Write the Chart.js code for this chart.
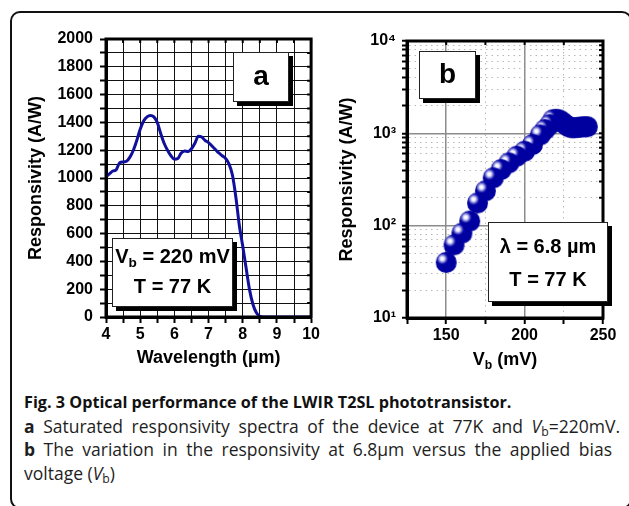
<!DOCTYPE html>
<html>
<head>
<meta charset="utf-8">
<script src="https://cdn.jsdelivr.net/npm/chart.js@4"></script>
<style>
  body { margin: 0; width: 629px; height: 506px; position: relative; overflow: hidden; background: #fff; font-family: "Liberation Sans", Arial, sans-serif; }
  .frame { position: absolute; left: 10px; top: 11px; width: 618px; height: 494px; border: 2px solid #111; border-radius: 10px; }
  canvas { position: absolute; top: 0; }
  #chartA { left: 0; }
  #chartB { left: 322px; }
  .box { position: absolute; background: #fff; border: 1px solid #222; box-shadow: 4px 4px 0 #000; font-weight: bold; color: #000; text-align: center; }
  .box .big { font-size: 28px; }
  .box .ln { font-size: 20px; position: absolute; left: 0; right: 0; white-space: nowrap; }
  .box sub, .vbtitle sub { font-size: 68%; vertical-align: -0.3em; line-height: 0; }
  .vbtitle { position: absolute; left: 407px; width: 196px; top: 349px; text-align: center; font-weight: bold; font-size: 18px; }
  .caption { position: absolute; left: 24px; top: 391px; font-family: "Open Sans", sans-serif; color: #1e1e1e; }
  .caption div { height: 23.5px; line-height: 23.5px; font-size: 17.5px; }
  .caption .head { font-weight: bold; font-size: 16.2px; color: #111; white-space: nowrap; }
  .caption .just { text-align: justify; text-align-last: justify; }
  .caption sub { font-size: 70%; vertical-align: -0.25em; line-height: 0; }
</style>
</head>
<body>
<div class="frame"></div>
<canvas id="chartA" width="322" height="372"></canvas>
<canvas id="chartB" width="307" height="372"></canvas>

<div class="box" style="left:233px;top:52px;width:54px;height:48px;line-height:46px;"><span class="big">a</span></div>
<div class="box" style="left:112px;top:238px;width:119px;height:67px;">
  <div class="ln" style="top:6px;">V<sub>b</sub> = 220 mV</div>
  <div class="ln" style="top:36px;">T = 77 K</div>
</div>
<div class="box" style="left:419px;top:51px;width:55px;height:46px;line-height:44px;"><span class="big">b</span></div>
<div class="box" style="left:488px;top:222px;width:118px;height:78px;">
  <div class="ln" style="top:12px;">λ = 6.8 µm</div>
  <div class="ln" style="top:45px;">T = 77 K</div>
</div>
<div class="vbtitle">V<sub>b</sub> (mV)</div>

<div class="caption">
  <div class="head">Fig. 3 Optical performance of the LWIR T2SL phototransistor.</div>
  <div class="just" style="width:596px;"><b>a</b> Saturated responsivity spectra of the device at 77K and <i>V</i><sub>b</sub>=220mV.</div>
  <div class="just" style="width:588px;"><b>b</b> The variation in the responsivity at 6.8μm versus the applied bias</div>
  <div>voltage (<i>V</i><sub>b</sub>)</div>
</div>

<script>
// (a) spectrum at Vb = 220 mV
const wavelength = [4.0, 4.1, 4.2, 4.3, 4.4, 4.5, 4.6, 4.7, 4.8, 4.9, 5.0, 5.1, 5.2, 5.3, 5.4, 5.5, 5.6, 5.7, 5.8, 5.9,
  6.0, 6.1, 6.2, 6.3, 6.4, 6.5, 6.6, 6.7, 6.8, 6.9, 7.0, 7.1, 7.2, 7.3, 7.4, 7.5, 7.6, 7.7, 7.8, 7.9,
  8.0, 8.1, 8.2, 8.3, 8.4, 8.5, 8.6, 9.0, 9.5, 10.0];
const responsivity = [1010, 1030, 1050, 1060, 1110, 1115, 1120, 1150, 1200, 1270, 1350, 1410, 1440, 1450, 1440, 1400, 1320, 1250, 1200, 1160,
  1135, 1140, 1180, 1195, 1190, 1210, 1250, 1300, 1295, 1270, 1255, 1230, 1205, 1180, 1160, 1140, 1100, 1020, 860, 660,
  510, 350, 195, 90, 30, 5, 0, 0, 0, 0];

// (b) responsivity at 6.8 um vs bias
const biasVoltage = [150, 155, 160, 165, 170, 175, 180, 185, 190, 195, 200, 205, 210, 213, 216, 218,
  220, 222, 224, 226, 228, 230, 232, 234, 236, 238, 240];
const biasResponsivity = [40, 62, 83, 112, 176, 238, 329, 405, 478, 565, 640, 755, 962, 1097, 1241, 1400,
  1420, 1400, 1330, 1250, 1180, 1150, 1150, 1160, 1170, 1180, 1180];

// tick labels
const wlTickLabels = [4, 5, 6, 7, 8, 9, 10];
const respTickLabels = [0, 200, 400, 600, 800, 1000, 1200, 1400, 1600, 1800, 2000];
const vbTickLabels = [150, 200, 250];
const decadeTicks = [10, 100, 1000, 10000];
const supDigits = ['⁰', '¹', '²', '³', '⁴'];

Chart.defaults.font.family = '"Liberation Sans", Arial, sans-serif';
Chart.defaults.font.weight = 'bold';
Chart.defaults.color = '#000';

// closes the box: thick border on all four sides plus inward ticks on top/right
const framePlugin = {
  id: 'frame',
  afterDatasetsDraw(chart) {
    const { ctx, chartArea: a, scales } = chart;
    ctx.save();
    ctx.strokeStyle = '#000';
    ctx.lineWidth = 2;
    ctx.beginPath();
    scales.x.ticks.forEach((t) => {
      const px = scales.x.getPixelForValue(t.value);
      ctx.moveTo(px, a.top);
      ctx.lineTo(px, a.top + 4);
    });
    scales.y.ticks.forEach((t) => {
      const py = scales.y.getPixelForValue(t.value);
      ctx.moveTo(a.right, py);
      ctx.lineTo(a.right - 4, py);
    });
    ctx.stroke();
    ctx.lineWidth = 3;
    ctx.strokeRect(a.left, a.top, a.right - a.left, a.bottom - a.top);
    ctx.restore();
  }
};

function sphere(r) {
  const c = document.createElement('canvas');
  c.width = c.height = r * 2 + 2;
  const g = c.getContext('2d');
  const cx = r + 1, cy = r + 1;
  g.fillStyle = '#0000a0';
  g.beginPath();
  g.arc(cx, cy, r, 0, Math.PI * 2);
  g.fill();
  const hx = cx - r * 0.38, hy = cy - r * 0.36;
  const hl = g.createRadialGradient(hx, hy, 0, hx, hy, r * 0.62);
  hl.addColorStop(0, '#ffffff');
  hl.addColorStop(0.28, '#f2f2ff');
  hl.addColorStop(0.6, 'rgba(150,150,230,0.75)');
  hl.addColorStop(1, 'rgba(0,0,160,0)');
  g.fillStyle = hl;
  g.beginPath();
  g.arc(cx, cy, r, 0, Math.PI * 2);
  g.fill();
  return c;
}

new Chart(document.getElementById('chartA'), {
  type: 'line',
  data: {
    datasets: [{
      data: wavelength.map((w, i) => ({ x: w, y: responsivity[i] })),
      borderColor: '#10109c',
      borderWidth: 3,
      pointRadius: 0,
      cubicInterpolationMode: 'monotone'
    }]
  },
  options: {
    responsive: false,
    animation: false,
    layout: { padding: { top: 39, right: 9, left: 27, bottom: 5 } },
    plugins: { legend: { display: false }, tooltip: { enabled: false } },
    scales: {
      x: {
        type: 'linear', min: 4, max: 10,
        afterFit: (s) => { s.height = 50; },
        ticks: {
          stepSize: 0.5, autoSkip: false, maxRotation: 0, padding: 2,
          font: { size: 16, weight: 'bold' },
          callback: (v) => wlTickLabels.includes(v) ? String(v) : ''
        },
        grid: { color: '#111', lineWidth: 1, tickColor: '#000', tickWidth: 2, tickLength: 6 },
        border: { color: '#000', width: 3 },
        title: { display: true, text: 'Wavelength (µm)', font: { size: 18, weight: 'bold', lineHeight: 1 }, padding: 0 }
      },
      y: {
        min: 0, max: 2000,
        afterFit: (s) => { s.width = 79; },
        ticks: {
          stepSize: 100, autoSkip: false, padding: 7,
          font: { size: 16, weight: 'bold' },
          callback: (v) => respTickLabels.includes(v) ? String(v) : ''
        },
        grid: { color: '#111', lineWidth: 1, tickColor: '#000', tickWidth: 2, tickLength: 6 },
        border: { color: '#000', width: 3 },
        title: { display: true, text: 'Responsivity (A/W)', font: { size: 18, weight: 'bold', lineHeight: 1 }, padding: 0 }
      }
    }
  },
  plugins: [framePlugin]
});

new Chart(document.getElementById('chartB'), {
  type: 'scatter',
  data: {
    datasets: [{
      // drawn from the last bias point back, so the low-bias spheres sit on top
      data: biasVoltage.map((v, i) => ({ x: v, y: biasResponsivity[i] })).reverse(),
      pointStyle: sphere(10.5),
      pointRadius: 10.5
    }]
  },
  options: {
    responsive: false,
    animation: false,
    layout: { padding: { top: 41, right: 26, left: 16, bottom: 4 } },
    plugins: { legend: { display: false }, tooltip: { enabled: false } },
    scales: {
      x: {
        type: 'linear', min: 125, max: 250,
        afterFit: (s) => { s.height = 50; },
        ticks: {
          stepSize: 25, autoSkip: false, maxRotation: 0, padding: 2,
          font: { size: 16, weight: 'bold' },
          callback: (v) => vbTickLabels.includes(v) ? String(v) : ''
        },
        grid: {
          color: (c) => vbTickLabels.includes(c.tick && c.tick.value) ? '#8c8c8c' : '#b8b8b8',
          lineWidth: (c) => vbTickLabels.includes(c.tick && c.tick.value) ? 1.5 : 1,
          tickColor: '#000', tickWidth: 2, tickLength: 6
        },
        border: {
          color: '#000', width: 3,
          dash: (c) => vbTickLabels.includes(c.tick && c.tick.value) ? [] : [1.5, 4]
        },
        title: { display: false }
      },
      y: {
        type: 'logarithmic', min: 10, max: 10000,
        afterFit: (s) => { s.width = 69; },
        afterBuildTicks: (s) => {
          const t = [];
          decadeTicks.forEach((d, i) => {
            if (i < decadeTicks.length - 1) {
              for (let k = 1; k < 10; k++) t.push({ value: d * k });
            } else {
              t.push({ value: d });
            }
          });
          s.ticks = t;
        },
        ticks: {
          autoSkip: false, padding: 6,
          font: { size: 16, weight: 'bold' },
          callback: (v) => decadeTicks.includes(v) ? '10' + supDigits[Math.round(Math.log10(v))] : ''
        },
        grid: {
          color: (c) => decadeTicks.includes(c.tick && c.tick.value) ? '#8c8c8c' : '#b8b8b8',
          lineWidth: (c) => decadeTicks.includes(c.tick && c.tick.value) ? 1.5 : 1,
          tickColor: '#000', tickWidth: 2, tickLength: 5
        },
        border: {
          color: '#000', width: 3,
          dash: (c) => decadeTicks.includes(c.tick && c.tick.value) ? [] : [1.5, 4]
        },
        title: { display: true, text: 'Responsivity (A/W)', font: { size: 18, weight: 'bold', lineHeight: 1 }, padding: 0 }
      }
    }
  },
  plugins: [framePlugin]
});
</script>
</body>
</html>
